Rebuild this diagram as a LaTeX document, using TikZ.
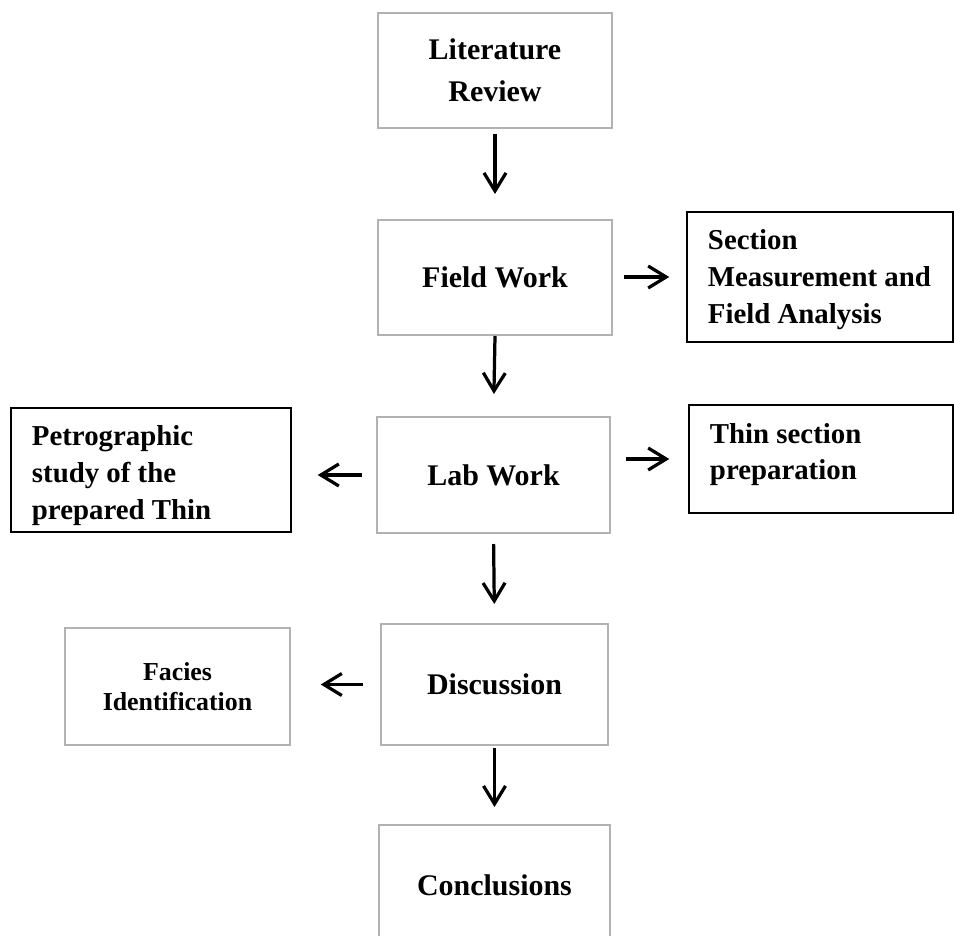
\documentclass[tikz,border=0pt]{standalone}
\usepackage{fontspec}
\setmainfont{Liberation Serif}
\usetikzlibrary{arrows.meta}
\newcommand{\sidetext}[3]{\parbox[c][#1][t]{#2}{\raggedright #3}}
\tikzset{
  mainbox/.style={rectangle, draw=gray!60, line width=1.4pt, align=center,
    inner sep=0pt, font=\fontsize{21.3}{26.6}\selectfont\bfseries},
  sidebox/.style={rectangle, draw=black, line width=1pt, inner xsep=0.525cm, inner ysep=0.45cm,
    font=\fontsize{20.5}{26}\selectfont\bfseries},
  arr/.style={-{Straight Barb[length=4.5mm,width=5.5mm]}, line width=2.3pt},
}

\begin{document}
\begin{tikzpicture}[x=0.025cm, y=-0.025cm]
  \useasboundingbox (0,0) rectangle (954,935);
  % main column
  \node[mainbox, minimum width=5.85cm, minimum height=2.875cm,
    font=\fontsize{21.3}{30}\selectfont\bfseries] (litrev) at (495,70.5) {Literature\\Review};
  \node[mainbox, minimum width=5.85cm, minimum height=2.875cm] (fieldwork) at (495,277.5) {Field Work};
  \node[mainbox, minimum width=5.825cm, minimum height=2.9cm] (labwork) at (493.5,475) {Lab Work};
  \node[mainbox, minimum width=5.675cm, minimum height=3.025cm] (discuss) at (494.5,684.5) {Discussion};
  \node[mainbox, minimum width=5.775cm, minimum height=3cm] (conclude) at (494.5,885) {Conclusions};
  % side boxes
  \node[sidebox] (sectmeas) at (820,277) {\sidetext{2.35cm}{5.6cm}{Section\\Measurement and\\Field Analysis}};
  \node[sidebox] (thinprep) at (821,459) {\sidetext{1.8cm}{5.55cm}{Thin section\\preparation}};
  \node[sidebox] (petro) at (151,470) {\sidetext{2.2cm}{5.95cm}{Petrographic\\study of the\\prepared Thin}};
  \node[mainbox, draw=gray!60, line width=1pt, minimum width=5.625cm, minimum height=2.925cm,
    font=\fontsize{18.4}{21}\selectfont\bfseries] (facies) at (177.5,686.5) {Facies\\Identification};
  % arrows
  \draw[arr, shorten <=0.125cm, shorten >=0.625cm] (litrev.south) -- (fieldwork.north);
  \draw[arr, shorten >=0.55cm] (fieldwork.south) -- (labwork.north);
  \draw[arr, shorten <=0.25cm, shorten >=0.475cm] (labwork.south) -- (discuss.north);
  \draw[arr, shorten <=0.05cm, shorten >=0.425cm] (discuss.south) -- (conclude.north);
  \draw[arr, shorten <=0.275cm, shorten >=0.425cm] (fieldwork.east |- sectmeas.west) -- (sectmeas.west);
  \draw[arr, shorten <=0.375cm, shorten >=0.475cm] (labwork.east |- thinprep.west) -- (thinprep.west);
  \draw[arr, shorten <=0.35cm, shorten >=0.65cm] (labwork.west) -- (labwork.west -| petro.east);
  \draw[arr, shorten <=0.425cm, shorten >=0.75cm] (discuss.west) -- (discuss.west -| facies.east);
\end{tikzpicture}
\end{document}
